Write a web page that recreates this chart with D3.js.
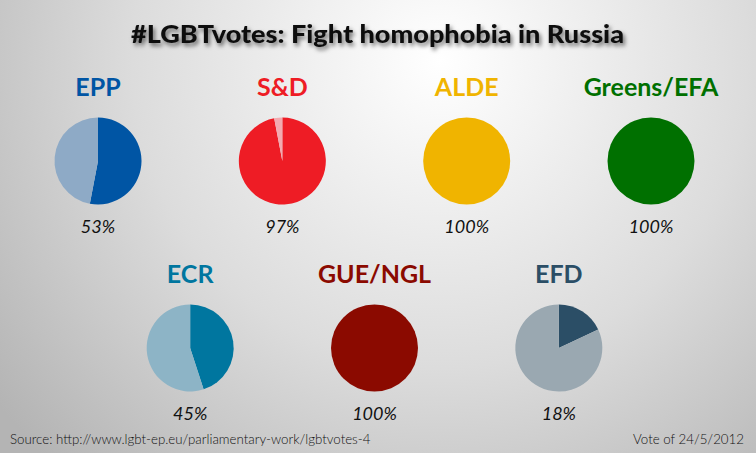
<!DOCTYPE html>
<html>
<head>
<meta charset="utf-8">
<script src="https://cdn.jsdelivr.net/npm/d3@7"></script>
<style>
  body { margin: 0; padding: 0; overflow: hidden; }
  svg { display: block; font-family: Lato, sans-serif; }
</style>
</head>
<body>
<div id="chart"></div>
<script>
// data
var parties = ["EPP", "S&D", "ALDE", "Greens/EFA", "ECR", "GUE/NGL", "EFD"];
var yesShare = [53, 97, 100, 100, 45, 100, 18];
var mainColors = ["#0055a4", "#ee1c25", "#f0b400", "#007000", "#00769f", "#8b0a00", "#2b4e66"];
var lightColors = ["#8eaac6", "#f3aab0", "#f7dc8a", "#80b880", "#8db4c6", "#c58580", "#9aa8b1"];
var rowOf = [0, 0, 0, 0, 1, 1, 1];
var colOf = [0, 1, 2, 3, 0.5, 1.5, 2.5];

var width = 756, height = 453;

var svg = d3.select("#chart")
  .append("svg")
    .attr("width", width)
    .attr("height", height);

var defs = svg.append("defs");

// background gradient
var bg = defs.append("radialGradient")
  .attr("id", "bg")
  .attr("gradientUnits", "userSpaceOnUse")
  .attr("cx", 440).attr("cy", 60).attr("r", 560);
bg.append("stop").attr("offset", "0%").attr("stop-color", "#ffffff");
bg.append("stop").attr("offset", "55%").attr("stop-color", "#dcdcdc");
bg.append("stop").attr("offset", "100%").attr("stop-color", "#b4b4b4");

var shadow = defs.append("filter").attr("id", "shadow")
  .attr("x", "-10%").attr("y", "-30%").attr("width", "120%").attr("height", "180%");
shadow.append("feDropShadow")
  .attr("dx", 2).attr("dy", 3).attr("stdDeviation", 2)
  .attr("flood-color", "#000").attr("flood-opacity", 0.55);

svg.append("rect")
  .attr("width", width).attr("height", height)
  .attr("fill", "url(#bg)");

// title
svg.append("text")
  .attr("x", 131).attr("y", 43)
  .attr("font-size", "24px")
  .attr("font-weight", 900)
  .attr("textLength", 493)
  .attr("lengthAdjust", "spacingAndGlyphs")
  .attr("fill", "#111")
  .attr("filter", "url(#shadow)")
  .text("#LGBTvotes: Fight homophobia in Russia");

// layout scales
var x = d3.scaleLinear().domain([0, 3]).range([98, 651]);
var y = d3.scaleOrdinal().domain([0, 1]).range([161, 348]);
var radius = 43.5;

var pie = d3.pie().sort(null).value(function(d) { return d; });
var arc = d3.arc().innerRadius(0).outerRadius(radius);

parties.forEach(function(p, i) {
  var cx = x(colOf[i]), cy = y(rowOf[i]);
  var g = svg.append("g")
    .attr("transform", "translate(" + cx + "," + cy + ")");

  g.append("text")
    .attr("y", -65)
    .attr("text-anchor", "middle")
    .attr("font-size", "25px")
    .attr("font-weight", 700)
    .attr("fill", mainColors[i])
    .text(p);

  g.selectAll("path")
    .data(pie([yesShare[i], 100 - yesShare[i]]))
    .enter()
    .append("path")
      .attr("d", arc)
      .attr("fill", function(d, j) { return j === 0 ? mainColors[i] : lightColors[i]; });

  g.append("text")
    .attr("y", 72)
    .attr("text-anchor", "middle")
    .attr("font-size", "18px")
    .attr("font-style", "italic")
    .attr("font-weight", 400)
    .attr("fill", "#111")
    .text(yesShare[i] + "%");
});

// footer
svg.append("text")
  .attr("x", 10).attr("y", 444)
  .attr("font-size", "13.3px")
  .attr("font-weight", 300)
  .attr("fill", "#111")
  .text("Source: http://www.lgbt-ep.eu/parliamentary-work/lgbtvotes-4");

svg.append("text")
  .attr("x", 744).attr("y", 444)
  .attr("text-anchor", "end")
  .attr("font-size", "13.3px")
  .attr("font-weight", 300)
  .attr("fill", "#111")
  .text("Vote of 24/5/2012");
</script>
</body>
</html>
